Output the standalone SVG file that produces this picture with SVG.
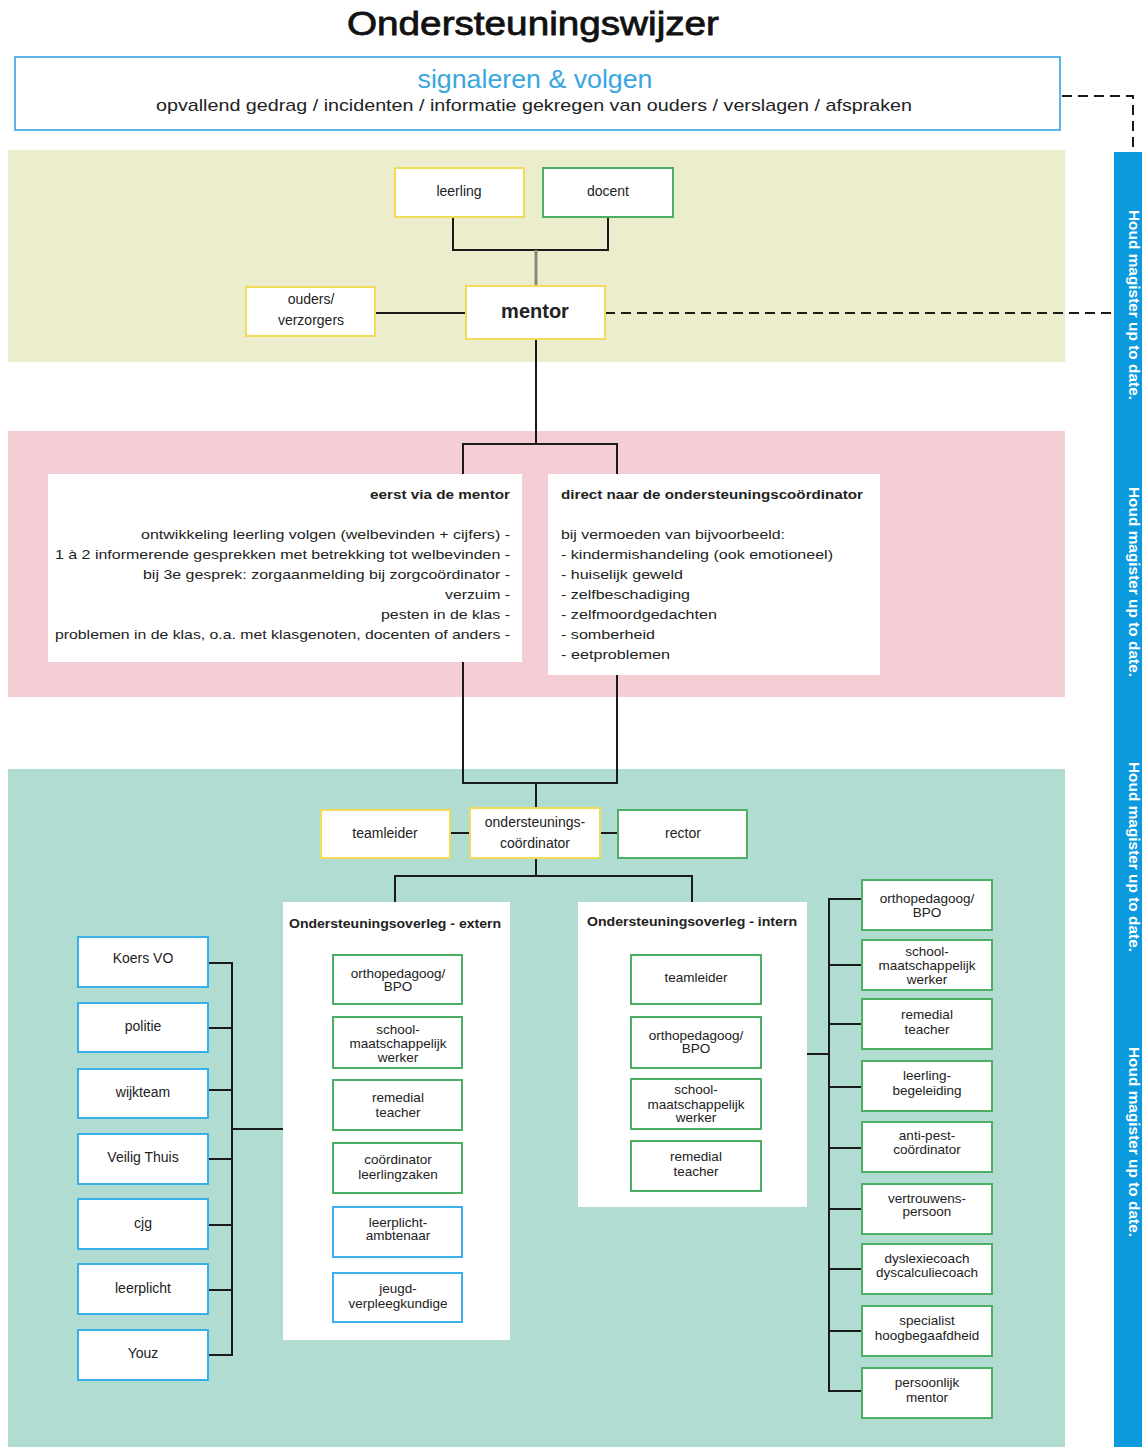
<svg xmlns="http://www.w3.org/2000/svg" width="1142" height="1447" viewBox="0 0 1142 1447">
<style>
text{font-family:"Liberation Sans",Arial,sans-serif;fill:#222}
.node rect{fill:#fff;stroke-width:2}
.y rect{stroke:#f0dc5a}
.g rect{stroke:#4caf64}
.b rect{stroke:#3ab0e8}
.lbl{font-size:14px;text-anchor:middle}
.sm{font-size:13.5px;text-anchor:middle}
.ln{fill:none;stroke:#1a1a1a;stroke-width:2}
.dash{fill:none;stroke:#1a1a1a;stroke-width:2;stroke-dasharray:10,6}
.pt{font-size:13.5px}
.bar{font-size:14px;fill:#fff;font-weight:bold;text-anchor:middle}
</style>
<rect width="1142" height="1447" fill="#fff"/>
<!-- bands -->
<rect x="8" y="150" width="1057" height="212" fill="#ecedcc"/>
<rect x="8" y="431" width="1057" height="266" fill="#f5ced5"/>
<rect x="8" y="769" width="1057" height="678" fill="#b0dcd2"/>
<rect x="1114" y="152" width="28" height="1295" fill="#0c9ade"/>
<g id="bar-text">
<text class="bar" transform="translate(1129,305) rotate(90)" textLength="190" lengthAdjust="spacingAndGlyphs">Houd magister up to date.</text>
<text class="bar" transform="translate(1129,582) rotate(90)" textLength="190" lengthAdjust="spacingAndGlyphs">Houd magister up to date.</text>
<text class="bar" transform="translate(1129,857) rotate(90)" textLength="190" lengthAdjust="spacingAndGlyphs">Houd magister up to date.</text>
<text class="bar" transform="translate(1129,1142) rotate(90)" textLength="190" lengthAdjust="spacingAndGlyphs">Houd magister up to date.</text>
</g>
<text id="title" x="533" y="35" font-size="33" text-anchor="middle" textLength="372" lengthAdjust="spacingAndGlyphs" style="fill:#111;stroke:#111;stroke-width:0.8">Ondersteuningswijzer</text>
<g id="signaleren">
<rect x="15" y="57" width="1045" height="73" fill="#fff" stroke="#5bb5e5" stroke-width="2"/>
<text x="535" y="88" font-size="26" text-anchor="middle" style="fill:#3aa6df" textLength="235" lengthAdjust="spacingAndGlyphs">signaleren &amp; volgen</text>
<text x="534" y="111" font-size="17" text-anchor="middle" textLength="756" lengthAdjust="spacingAndGlyphs">opvallend gedrag / incidenten / informatie gekregen van ouders / verslagen / afspraken</text>
</g>
<!-- connectors -->
<g id="connectors">
<path class="dash" d="M1062,96 H1133 V152"/>
<path class="dash" d="M605,313 H1114"/>
<path class="ln" d="M453,217 V250 H608 V217"/>
<path d="M536,250 V286" stroke="#8a8a7a" stroke-width="3" fill="none"/>
<path class="ln" d="M375,313 H466"/>
<path class="ln" d="M536,339 V444 M463,474 V444 H617 V474"/>
<path class="ln" d="M463,662 V783 H617 V675 M536,783 V808"/>
<path class="ln" d="M450,833 H470 M600,833 H618"/>
<path class="ln" d="M536,858 V876 M395,902 V876 H692 V902"/>
<path class="ln" d="M208,963 H232 M208,1028 H232 M208,1090 H232 M208,1159 H232 M208,1225 H232 M208,1290 H232 M208,1355 H232 M232,962 V1356 M232,1129 H283"/>
<path class="ln" d="M807,1054 H829 M829,898 V1392 M829,899 H862 M829,965 H862 M829,1024 H862 M829,1087 H862 M829,1148 H862 M829,1209 H862 M829,1269 H862 M829,1331 H862 M829,1391 H862"/>
</g>
<!-- top nodes -->
<g id="leerling" class="node y"><rect x="395" y="168" width="129" height="49"/><text class="lbl" x="459" y="196">leerling</text></g>
<g id="docent" class="node g"><rect x="543" y="168" width="130" height="49"/><text class="lbl" x="608" y="196">docent</text></g>
<g id="ouders" class="node y"><rect x="246" y="287" width="129" height="49"/><text class="lbl" x="311" y="304">ouders/</text><text class="lbl" x="311" y="325">verzorgers</text></g>
<g id="mentor" class="node y"><rect x="466" y="286" width="139" height="53"/><text x="535" y="318" font-size="20" font-weight="bold" text-anchor="middle">mentor</text></g>
<!-- pink boxes -->
<g id="eerst-via-mentor">
<rect x="48" y="474" width="474" height="188" fill="#fff"/>
<g text-anchor="end">
<text class="pt" x="510" y="499" font-weight="bold" textLength="140" lengthAdjust="spacingAndGlyphs">eerst via de mentor</text>
<text class="pt" x="510" y="539" textLength="369" lengthAdjust="spacingAndGlyphs">ontwikkeling leerling volgen (welbevinden + cijfers) -</text>
<text class="pt" x="510" y="559" textLength="455" lengthAdjust="spacingAndGlyphs">1 à 2 informerende gesprekken met betrekking tot welbevinden -</text>
<text class="pt" x="510" y="579" textLength="367" lengthAdjust="spacingAndGlyphs">bij 3e gesprek: zorgaanmelding bij zorgcoördinator -</text>
<text class="pt" x="510" y="599" textLength="65" lengthAdjust="spacingAndGlyphs">verzuim -</text>
<text class="pt" x="510" y="619" textLength="129" lengthAdjust="spacingAndGlyphs">pesten in de klas -</text>
<text class="pt" x="510" y="639" textLength="455" lengthAdjust="spacingAndGlyphs">problemen in de klas, o.a. met klasgenoten, docenten of anders -</text>
</g>
</g>
<g id="direct-naar-coordinator">
<rect x="548" y="474" width="332" height="201" fill="#fff"/>
<text class="pt" x="561" y="499" font-weight="bold" textLength="302" lengthAdjust="spacingAndGlyphs">direct naar de ondersteuningscoördinator</text>
<text class="pt" x="561" y="539" textLength="224" lengthAdjust="spacingAndGlyphs">bij vermoeden van bijvoorbeeld:</text>
<text class="pt" x="561" y="559" textLength="272" lengthAdjust="spacingAndGlyphs">- kindermishandeling (ook emotioneel)</text>
<text class="pt" x="561" y="579" textLength="122" lengthAdjust="spacingAndGlyphs">- huiselijk geweld</text>
<text class="pt" x="561" y="599" textLength="129" lengthAdjust="spacingAndGlyphs">- zelfbeschadiging</text>
<text class="pt" x="561" y="619" textLength="156" lengthAdjust="spacingAndGlyphs">- zelfmoordgedachten</text>
<text class="pt" x="561" y="639" textLength="94" lengthAdjust="spacingAndGlyphs">- somberheid</text>
<text class="pt" x="561" y="659" textLength="109" lengthAdjust="spacingAndGlyphs">- eetproblemen</text>
</g>
<!-- coordinator row -->
<g id="teamleider" class="node y"><rect x="321" y="810" width="129" height="48"/><text class="lbl" x="385" y="838">teamleider</text></g>
<g id="ondersteuningscoordinator" class="node y"><rect x="470" y="808" width="130" height="50"/><text class="lbl" x="535" y="827">ondersteunings-</text><text class="lbl" x="535" y="848">coördinator</text></g>
<g id="rector" class="node g"><rect x="618" y="810" width="129" height="48"/><text class="lbl" x="683" y="838">rector</text></g>
<!-- panels -->
<g id="overleg-extern">
<rect x="283" y="902" width="227" height="438" fill="#fff"/>
<text x="395" y="928" font-size="13" font-weight="bold" text-anchor="middle" textLength="212" lengthAdjust="spacingAndGlyphs">Ondersteuningsoverleg - extern</text>
</g>
<g id="overleg-intern">
<rect x="578" y="902" width="229" height="305" fill="#fff"/>
<text x="692" y="926" font-size="13" font-weight="bold" text-anchor="middle" textLength="210" lengthAdjust="spacingAndGlyphs">Ondersteuningsoverleg - intern</text>
</g>
<!-- extern inner -->
<g id="ext-ortho" class="node g"><rect x="333" y="955" width="129" height="49"/><text class="sm" x="398" y="978">orthopedagoog/</text><text class="sm" x="398" y="991">BPO</text></g>
<g id="ext-smw" class="node g"><rect x="333" y="1017" width="129" height="51"/><text class="sm" x="398" y="1034">school-</text><text class="sm" x="398" y="1048">maatschappelijk</text><text class="sm" x="398" y="1062">werker</text></g>
<g id="ext-remedial" class="node g"><rect x="333" y="1080" width="129" height="50"/><text class="sm" x="398" y="1102">remedial</text><text class="sm" x="398" y="1117">teacher</text></g>
<g id="ext-coord" class="node g"><rect x="333" y="1143" width="129" height="50"/><text class="sm" x="398" y="1164">coördinator</text><text class="sm" x="398" y="1179">leerlingzaken</text></g>
<g id="ext-leerplicht" class="node b"><rect x="333" y="1207" width="129" height="50"/><text class="sm" x="398" y="1227">leerplicht-</text><text class="sm" x="398" y="1240">ambtenaar</text></g>
<g id="ext-jeugd" class="node b"><rect x="333" y="1273" width="129" height="49"/><text class="sm" x="398" y="1293">jeugd-</text><text class="sm" x="398" y="1308">verpleegkundige</text></g>
<!-- left external -->
<g id="koers" class="node b"><rect x="78" y="937" width="130" height="50"/><text class="lbl" x="143" y="963">Koers VO</text></g>
<g id="politie" class="node b"><rect x="78" y="1003" width="130" height="49"/><text class="lbl" x="143" y="1031">politie</text></g>
<g id="wijkteam" class="node b"><rect x="78" y="1069" width="130" height="49"/><text class="lbl" x="143" y="1097">wijkteam</text></g>
<g id="veilig" class="node b"><rect x="78" y="1134" width="130" height="50"/><text class="lbl" x="143" y="1162">Veilig Thuis</text></g>
<g id="cjg" class="node b"><rect x="78" y="1199" width="130" height="50"/><text class="lbl" x="143" y="1228">cjg</text></g>
<g id="leerplicht" class="node b"><rect x="78" y="1264" width="130" height="50"/><text class="lbl" x="143" y="1293">leerplicht</text></g>
<g id="youz" class="node b"><rect x="78" y="1330" width="130" height="50"/><text class="lbl" x="143" y="1358">Youz</text></g>
<!-- intern inner -->
<g id="int-teamleider" class="node g"><rect x="631" y="955" width="130" height="49"/><text class="sm" x="696" y="982">teamleider</text></g>
<g id="int-ortho" class="node g"><rect x="631" y="1017" width="130" height="51"/><text class="sm" x="696" y="1040">orthopedagoog/</text><text class="sm" x="696" y="1053">BPO</text></g>
<g id="int-smw" class="node g"><rect x="631" y="1079" width="130" height="50"/><text class="sm" x="696" y="1094">school-</text><text class="sm" x="696" y="1109">maatschappelijk</text><text class="sm" x="696" y="1122">werker</text></g>
<g id="int-remedial" class="node g"><rect x="631" y="1141" width="130" height="50"/><text class="sm" x="696" y="1161">remedial</text><text class="sm" x="696" y="1176">teacher</text></g>
<!-- right -->
<g id="r-ortho" class="node g"><rect x="862" y="880" width="130" height="50"/><text class="sm" x="927" y="903">orthopedagoog/</text><text class="sm" x="927" y="917">BPO</text></g>
<g id="r-smw" class="node g"><rect x="862" y="940" width="130" height="50"/><text class="sm" x="927" y="956">school-</text><text class="sm" x="927" y="970">maatschappelijk</text><text class="sm" x="927" y="984">werker</text></g>
<g id="r-remedial" class="node g"><rect x="862" y="999" width="130" height="50"/><text class="sm" x="927" y="1019">remedial</text><text class="sm" x="927" y="1034">teacher</text></g>
<g id="r-leerling" class="node g"><rect x="862" y="1061" width="130" height="50"/><text class="sm" x="927" y="1080">leerling-</text><text class="sm" x="927" y="1095">begeleiding</text></g>
<g id="r-antipest" class="node g"><rect x="862" y="1122" width="130" height="50"/><text class="sm" x="927" y="1140">anti-pest-</text><text class="sm" x="927" y="1154">coördinator</text></g>
<g id="r-vertrouwens" class="node g"><rect x="862" y="1184" width="130" height="50"/><text class="sm" x="927" y="1203">vertrouwens-</text><text class="sm" x="927" y="1216">persoon</text></g>
<g id="r-dyslexie" class="node g"><rect x="862" y="1244" width="130" height="50"/><text class="sm" x="927" y="1263">dyslexiecoach</text><text class="sm" x="927" y="1277">dyscalculiecoach</text></g>
<g id="r-specialist" class="node g"><rect x="862" y="1306" width="130" height="50"/><text class="sm" x="927" y="1325">specialist</text><text class="sm" x="927" y="1340">hoogbegaafdheid</text></g>
<g id="r-mentor" class="node g"><rect x="862" y="1368" width="130" height="50"/><text class="sm" x="927" y="1387">persoonlijk</text><text class="sm" x="927" y="1402">mentor</text></g>
</svg>
